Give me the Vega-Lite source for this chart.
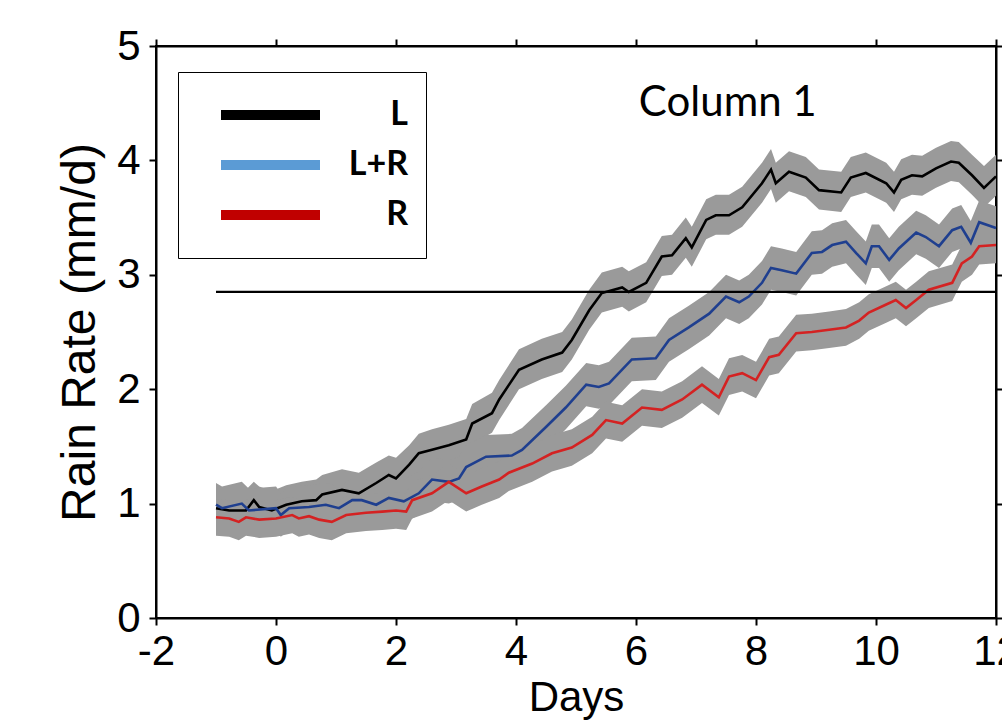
{
  "$schema": "https://vega.github.io/schema/vega-lite/v6.json",
  "autosize": "none",
  "width": 840,
  "height": 572,
  "padding": {"left": 156, "top": 46, "right": 6, "bottom": 103},
  "background": "white",
  "config": {
    "view": {"stroke": "black", "strokeWidth": 2},
    "axis": {"grid": false, "domainColor": "black", "domainWidth": 2, "tickColor": "black", "tickWidth": 2, "tickSize": 7, "labelColor": "black", "titleColor": "black", "labelFont": "Liberation Sans", "titleFont": "Liberation Sans", "labelFontSize": 42, "titleFontSize": 42, "titleFontWeight": "normal"}
  },
  "data": {"values": [
    {"s":"L","d":-1.00,"v":0.96,"lo":0.79,"hi":1.14},
    {"s":"L","d":-0.78,"v":0.94,"lo":0.77,"hi":1.10},
    {"s":"L","d":-0.50,"v":0.94,"lo":0.76,"hi":1.12},
    {"s":"L","d":-0.37,"v":1.03,"lo":0.85,"hi":1.19},
    {"s":"L","d":-0.28,"v":0.97,"lo":0.80,"hi":1.15},
    {"s":"L","d":-0.07,"v":0.94,"lo":0.77,"hi":1.11},
    {"s":"L","d":0.17,"v":0.99,"lo":0.82,"hi":1.16},
    {"s":"L","d":0.43,"v":1.02,"lo":0.85,"hi":1.19},
    {"s":"L","d":0.67,"v":1.03,"lo":0.86,"hi":1.21},
    {"s":"L","d":0.77,"v":1.08,"lo":0.91,"hi":1.25},
    {"s":"L","d":1.10,"v":1.12,"lo":0.95,"hi":1.30},
    {"s":"L","d":1.38,"v":1.09,"lo":0.92,"hi":1.27},
    {"s":"L","d":1.67,"v":1.18,"lo":1.01,"hi":1.36},
    {"s":"L","d":1.88,"v":1.25,"lo":1.07,"hi":1.42},
    {"s":"L","d":2.00,"v":1.22,"lo":1.05,"hi":1.40},
    {"s":"L","d":2.22,"v":1.34,"lo":1.17,"hi":1.51},
    {"s":"L","d":2.38,"v":1.44,"lo":1.26,"hi":1.61},
    {"s":"L","d":2.60,"v":1.47,"lo":1.30,"hi":1.65},
    {"s":"L","d":2.88,"v":1.51,"lo":1.34,"hi":1.69},
    {"s":"L","d":3.17,"v":1.56,"lo":1.39,"hi":1.74},
    {"s":"L","d":3.27,"v":1.70,"lo":1.52,"hi":1.87},
    {"s":"L","d":3.60,"v":1.79,"lo":1.62,"hi":1.97},
    {"s":"L","d":3.72,"v":1.91,"lo":1.73,"hi":2.08},
    {"s":"L","d":4.05,"v":2.17,"lo":2.00,"hi":2.35},
    {"s":"L","d":4.43,"v":2.26,"lo":2.09,"hi":2.44},
    {"s":"L","d":4.77,"v":2.32,"lo":2.15,"hi":2.50},
    {"s":"L","d":4.93,"v":2.43,"lo":2.26,"hi":2.61},
    {"s":"L","d":5.22,"v":2.69,"lo":2.52,"hi":2.87},
    {"s":"L","d":5.43,"v":2.84,"lo":2.67,"hi":3.02},
    {"s":"L","d":5.77,"v":2.89,"lo":2.72,"hi":3.07},
    {"s":"L","d":5.88,"v":2.85,"lo":2.68,"hi":3.03},
    {"s":"L","d":6.17,"v":2.93,"lo":2.76,"hi":3.11},
    {"s":"L","d":6.43,"v":3.16,"lo":2.99,"hi":3.34},
    {"s":"L","d":6.60,"v":3.17,"lo":3.00,"hi":3.35},
    {"s":"L","d":6.83,"v":3.32,"lo":3.15,"hi":3.50},
    {"s":"L","d":6.93,"v":3.24,"lo":3.07,"hi":3.42},
    {"s":"L","d":7.17,"v":3.48,"lo":3.31,"hi":3.66},
    {"s":"L","d":7.33,"v":3.52,"lo":3.35,"hi":3.70},
    {"s":"L","d":7.55,"v":3.52,"lo":3.35,"hi":3.70},
    {"s":"L","d":7.77,"v":3.59,"lo":3.42,"hi":3.77},
    {"s":"L","d":8.10,"v":3.80,"lo":3.63,"hi":3.98},
    {"s":"L","d":8.25,"v":3.92,"lo":3.75,"hi":4.10},
    {"s":"L","d":8.33,"v":3.80,"lo":3.63,"hi":3.98},
    {"s":"L","d":8.55,"v":3.90,"lo":3.73,"hi":4.08},
    {"s":"L","d":8.83,"v":3.85,"lo":3.68,"hi":4.03},
    {"s":"L","d":9.05,"v":3.74,"lo":3.57,"hi":3.92},
    {"s":"L","d":9.42,"v":3.72,"lo":3.55,"hi":3.90},
    {"s":"L","d":9.58,"v":3.85,"lo":3.68,"hi":4.03},
    {"s":"L","d":9.83,"v":3.89,"lo":3.72,"hi":4.07},
    {"s":"L","d":10.17,"v":3.80,"lo":3.63,"hi":3.98},
    {"s":"L","d":10.30,"v":3.72,"lo":3.55,"hi":3.90},
    {"s":"L","d":10.42,"v":3.83,"lo":3.66,"hi":4.01},
    {"s":"L","d":10.60,"v":3.87,"lo":3.70,"hi":4.05},
    {"s":"L","d":10.77,"v":3.86,"lo":3.69,"hi":4.04},
    {"s":"L","d":11.00,"v":3.93,"lo":3.76,"hi":4.11},
    {"s":"L","d":11.25,"v":3.99,"lo":3.82,"hi":4.17},
    {"s":"L","d":11.38,"v":3.98,"lo":3.81,"hi":4.16},
    {"s":"L","d":11.60,"v":3.87,"lo":3.70,"hi":4.05},
    {"s":"L","d":11.80,"v":3.76,"lo":3.59,"hi":3.95},
    {"s":"L","d":12.00,"v":3.86,"lo":3.69,"hi":4.05},
    {"s":"L+R","d":-1.00,"v":0.99,"lo":0.80,"hi":1.18},
    {"s":"L+R","d":-0.90,"v":0.96,"lo":0.77,"hi":1.15},
    {"s":"L+R","d":-0.57,"v":1.00,"lo":0.81,"hi":1.19},
    {"s":"L+R","d":-0.45,"v":0.94,"lo":0.75,"hi":1.13},
    {"s":"L+R","d":0.00,"v":0.96,"lo":0.77,"hi":1.15},
    {"s":"L+R","d":0.08,"v":0.90,"lo":0.71,"hi":1.09},
    {"s":"L+R","d":0.22,"v":0.96,"lo":0.77,"hi":1.15},
    {"s":"L+R","d":0.55,"v":0.97,"lo":0.78,"hi":1.16},
    {"s":"L+R","d":0.83,"v":0.99,"lo":0.80,"hi":1.18},
    {"s":"L+R","d":1.05,"v":0.96,"lo":0.77,"hi":1.15},
    {"s":"L+R","d":1.27,"v":1.03,"lo":0.84,"hi":1.22},
    {"s":"L+R","d":1.43,"v":1.03,"lo":0.84,"hi":1.22},
    {"s":"L+R","d":1.67,"v":0.99,"lo":0.80,"hi":1.18},
    {"s":"L+R","d":1.88,"v":1.05,"lo":0.86,"hi":1.24},
    {"s":"L+R","d":2.13,"v":1.02,"lo":0.83,"hi":1.21},
    {"s":"L+R","d":2.38,"v":1.09,"lo":0.90,"hi":1.28},
    {"s":"L+R","d":2.60,"v":1.21,"lo":1.02,"hi":1.40},
    {"s":"L+R","d":2.88,"v":1.19,"lo":1.00,"hi":1.38},
    {"s":"L+R","d":3.05,"v":1.22,"lo":1.03,"hi":1.41},
    {"s":"L+R","d":3.17,"v":1.32,"lo":1.13,"hi":1.51},
    {"s":"L+R","d":3.50,"v":1.41,"lo":1.22,"hi":1.60},
    {"s":"L+R","d":3.93,"v":1.42,"lo":1.23,"hi":1.61},
    {"s":"L+R","d":4.10,"v":1.47,"lo":1.28,"hi":1.66},
    {"s":"L+R","d":4.50,"v":1.67,"lo":1.48,"hi":1.86},
    {"s":"L+R","d":4.83,"v":1.84,"lo":1.65,"hi":2.03},
    {"s":"L+R","d":5.17,"v":2.04,"lo":1.85,"hi":2.23},
    {"s":"L+R","d":5.38,"v":2.02,"lo":1.83,"hi":2.21},
    {"s":"L+R","d":5.55,"v":2.05,"lo":1.86,"hi":2.24},
    {"s":"L+R","d":5.93,"v":2.26,"lo":2.07,"hi":2.45},
    {"s":"L+R","d":6.33,"v":2.27,"lo":2.08,"hi":2.46},
    {"s":"L+R","d":6.55,"v":2.43,"lo":2.24,"hi":2.62},
    {"s":"L+R","d":6.88,"v":2.54,"lo":2.35,"hi":2.73},
    {"s":"L+R","d":7.22,"v":2.66,"lo":2.47,"hi":2.85},
    {"s":"L+R","d":7.50,"v":2.81,"lo":2.62,"hi":3.00},
    {"s":"L+R","d":7.72,"v":2.76,"lo":2.57,"hi":2.95},
    {"s":"L+R","d":7.88,"v":2.81,"lo":2.62,"hi":3.00},
    {"s":"L+R","d":8.10,"v":2.93,"lo":2.74,"hi":3.12},
    {"s":"L+R","d":8.25,"v":3.06,"lo":2.87,"hi":3.25},
    {"s":"L+R","d":8.43,"v":3.04,"lo":2.85,"hi":3.23},
    {"s":"L+R","d":8.67,"v":3.01,"lo":2.82,"hi":3.20},
    {"s":"L+R","d":8.93,"v":3.19,"lo":3.00,"hi":3.38},
    {"s":"L+R","d":9.10,"v":3.20,"lo":3.01,"hi":3.39},
    {"s":"L+R","d":9.27,"v":3.26,"lo":3.07,"hi":3.45},
    {"s":"L+R","d":9.50,"v":3.29,"lo":3.10,"hi":3.48},
    {"s":"L+R","d":9.67,"v":3.19,"lo":3.00,"hi":3.38},
    {"s":"L+R","d":9.83,"v":3.10,"lo":2.91,"hi":3.29},
    {"s":"L+R","d":9.93,"v":3.25,"lo":3.06,"hi":3.44},
    {"s":"L+R","d":10.05,"v":3.25,"lo":3.06,"hi":3.44},
    {"s":"L+R","d":10.22,"v":3.13,"lo":2.94,"hi":3.32},
    {"s":"L+R","d":10.38,"v":3.23,"lo":3.04,"hi":3.42},
    {"s":"L+R","d":10.67,"v":3.37,"lo":3.18,"hi":3.56},
    {"s":"L+R","d":10.83,"v":3.33,"lo":3.14,"hi":3.52},
    {"s":"L+R","d":11.05,"v":3.25,"lo":3.06,"hi":3.44},
    {"s":"L+R","d":11.27,"v":3.39,"lo":3.20,"hi":3.58},
    {"s":"L+R","d":11.42,"v":3.42,"lo":3.23,"hi":3.61},
    {"s":"L+R","d":11.58,"v":3.28,"lo":3.09,"hi":3.47},
    {"s":"L+R","d":11.72,"v":3.46,"lo":3.27,"hi":3.65},
    {"s":"L+R","d":12.00,"v":3.41,"lo":3.22,"hi":3.60},
    {"s":"R","d":-1.00,"v":0.88,"lo":0.72,"hi":1.04},
    {"s":"R","d":-0.78,"v":0.87,"lo":0.71,"hi":1.03},
    {"s":"R","d":-0.62,"v":0.84,"lo":0.68,"hi":1.00},
    {"s":"R","d":-0.50,"v":0.88,"lo":0.72,"hi":1.04},
    {"s":"R","d":-0.28,"v":0.86,"lo":0.70,"hi":1.02},
    {"s":"R","d":0.00,"v":0.87,"lo":0.71,"hi":1.03},
    {"s":"R","d":0.27,"v":0.90,"lo":0.74,"hi":1.06},
    {"s":"R","d":0.38,"v":0.87,"lo":0.71,"hi":1.03},
    {"s":"R","d":0.55,"v":0.89,"lo":0.73,"hi":1.05},
    {"s":"R","d":0.72,"v":0.86,"lo":0.70,"hi":1.02},
    {"s":"R","d":0.93,"v":0.84,"lo":0.68,"hi":1.00},
    {"s":"R","d":1.17,"v":0.90,"lo":0.74,"hi":1.06},
    {"s":"R","d":1.50,"v":0.92,"lo":0.76,"hi":1.08},
    {"s":"R","d":1.77,"v":0.93,"lo":0.77,"hi":1.09},
    {"s":"R","d":2.00,"v":0.94,"lo":0.78,"hi":1.10},
    {"s":"R","d":2.17,"v":0.93,"lo":0.77,"hi":1.09},
    {"s":"R","d":2.27,"v":1.03,"lo":0.87,"hi":1.19},
    {"s":"R","d":2.60,"v":1.09,"lo":0.93,"hi":1.25},
    {"s":"R","d":2.88,"v":1.19,"lo":1.03,"hi":1.35},
    {"s":"R","d":3.17,"v":1.09,"lo":0.93,"hi":1.25},
    {"s":"R","d":3.43,"v":1.15,"lo":0.99,"hi":1.31},
    {"s":"R","d":3.72,"v":1.21,"lo":1.05,"hi":1.37},
    {"s":"R","d":3.88,"v":1.27,"lo":1.11,"hi":1.43},
    {"s":"R","d":4.27,"v":1.35,"lo":1.19,"hi":1.51},
    {"s":"R","d":4.60,"v":1.44,"lo":1.28,"hi":1.60},
    {"s":"R","d":4.93,"v":1.49,"lo":1.33,"hi":1.65},
    {"s":"R","d":5.27,"v":1.60,"lo":1.44,"hi":1.76},
    {"s":"R","d":5.50,"v":1.73,"lo":1.57,"hi":1.89},
    {"s":"R","d":5.77,"v":1.70,"lo":1.54,"hi":1.86},
    {"s":"R","d":6.10,"v":1.84,"lo":1.68,"hi":2.00},
    {"s":"R","d":6.43,"v":1.82,"lo":1.66,"hi":1.98},
    {"s":"R","d":6.77,"v":1.91,"lo":1.75,"hi":2.07},
    {"s":"R","d":7.10,"v":2.04,"lo":1.88,"hi":2.20},
    {"s":"R","d":7.38,"v":1.93,"lo":1.77,"hi":2.09},
    {"s":"R","d":7.55,"v":2.11,"lo":1.95,"hi":2.27},
    {"s":"R","d":7.77,"v":2.14,"lo":1.98,"hi":2.30},
    {"s":"R","d":8.00,"v":2.08,"lo":1.92,"hi":2.24},
    {"s":"R","d":8.22,"v":2.28,"lo":2.12,"hi":2.44},
    {"s":"R","d":8.38,"v":2.30,"lo":2.14,"hi":2.46},
    {"s":"R","d":8.67,"v":2.49,"lo":2.33,"hi":2.65},
    {"s":"R","d":8.93,"v":2.50,"lo":2.34,"hi":2.66},
    {"s":"R","d":9.22,"v":2.52,"lo":2.36,"hi":2.68},
    {"s":"R","d":9.50,"v":2.54,"lo":2.38,"hi":2.70},
    {"s":"R","d":9.72,"v":2.60,"lo":2.44,"hi":2.76},
    {"s":"R","d":9.88,"v":2.67,"lo":2.51,"hi":2.83},
    {"s":"R","d":10.17,"v":2.74,"lo":2.58,"hi":2.90},
    {"s":"R","d":10.33,"v":2.78,"lo":2.62,"hi":2.94},
    {"s":"R","d":10.50,"v":2.71,"lo":2.55,"hi":2.87},
    {"s":"R","d":10.67,"v":2.78,"lo":2.62,"hi":2.94},
    {"s":"R","d":10.88,"v":2.87,"lo":2.71,"hi":3.03},
    {"s":"R","d":11.27,"v":2.93,"lo":2.77,"hi":3.09},
    {"s":"R","d":11.43,"v":3.10,"lo":2.94,"hi":3.26},
    {"s":"R","d":11.60,"v":3.16,"lo":3.00,"hi":3.32},
    {"s":"R","d":11.72,"v":3.25,"lo":3.09,"hi":3.41},
    {"s":"R","d":12.00,"v":3.26,"lo":3.10,"hi":3.42}
  ]},
  "resolve": {"axis": {"x": "independent", "y": "independent"}, "scale": {"color": "independent"}},
  "layer": [
    {
      "mark": {"type": "area", "color": "#9a9a9a", "opacity": 1},
      "encoding": {
        "x": {"field": "d", "type": "quantitative", "scale": {"domain": [-2, 12], "nice": false}, "axis": null},
        "y": {"field": "lo", "type": "quantitative", "scale": {"domain": [0, 5], "nice": false}, "axis": null},
        "y2": {"field": "hi"},
        "detail": {"field": "s"}
      }
    },
    {
      "mark": {"type": "line", "strokeWidth": 2.6},
      "encoding": {
        "x": {"field": "d", "type": "quantitative", "scale": {"domain": [-2, 12], "nice": false},
          "axis": {"orient": "bottom", "values": [-2, 0, 2, 4, 6, 8, 10, 12], "labelExpr": "'' + datum.value", "title": "Days", "labelPadding": 6, "titlePadding": 5, "labelFlush": false, "labelOverlap": false}},
        "y": {"field": "v", "type": "quantitative", "scale": {"domain": [0, 5], "nice": false},
          "axis": {"orient": "left", "values": [0, 1, 2, 3, 4, 5], "title": "Rain Rate (mm/d)", "titleFontSize": 48, "labelPadding": 9, "titlePadding": 12, "labelFlush": false}},
        "color": {
          "field": "s", "type": "nominal",
          "scale": {"domain": ["L", "L+R", "R"], "range": ["#000000", "#1f3f8f", "#d42222"]},
          "legend": null
        }
      }
    },
    {
      "mark": {"type": "line", "strokeWidth": 10, "opacity": 0},
      "encoding": {
        "x": {"field": "d", "type": "quantitative", "scale": {"domain": [-2, 12], "nice": false}, "axis": null},
        "y": {"field": "v", "type": "quantitative", "scale": {"domain": [0, 5], "nice": false}, "axis": null},
        "color": {
          "field": "s", "type": "nominal",
          "scale": {"domain": ["L", "L+R", "R"], "range": ["#000000", "#5b9bd5", "#c00000"]},
          "legend": {
            "orient": "none", "legendX": 22, "legendY": 26, "title": null,
            "strokeColor": "black", "fillColor": "white", "padding": 18,
            "symbolType": "stroke", "symbolSize": 9801, "symbolStrokeWidth": 10, "symbolOffset": 20, "symbolOpacity": 1,
            "clipHeight": 50, "rowPadding": 0,
            "labelAlign": "right", "labelOffset": 83, "labelFont": "Lato", "labelFontWeight": "bold", "labelFontSize": 34, "labelColor": "black", "labelLimit": 0
          }
        }
      }
    },
    {
      "data": {"values": [{"start": -1, "end": 12, "level": 2.85}]},
      "mark": {"type": "rule", "color": "black", "strokeWidth": 2.2},
      "encoding": {
        "x": {"field": "start", "type": "quantitative", "scale": {"domain": [-2, 12], "nice": false},
          "axis": {"orient": "top", "values": [-2, 0, 2, 4, 6, 8, 10, 12], "labels": false, "title": null}},
        "x2": {"field": "end"},
        "y": {"field": "level", "type": "quantitative", "scale": {"domain": [0, 5], "nice": false},
          "axis": {"orient": "right", "values": [0, 1, 2, 3, 4, 5], "labels": false, "title": null}}
      }
    },
    {
      "data": {"values": [{"label": "Column 1"}]},
      "mark": {"type": "text", "font": "Lato", "fontSize": 42, "color": "black", "align": "center", "baseline": "middle"},
      "encoding": {
        "text": {"field": "label"},
        "x": {"datum": 7.53, "type": "quantitative", "axis": null},
        "y": {"datum": 4.5, "type": "quantitative", "axis": null}
      }
    }
  ]
}
